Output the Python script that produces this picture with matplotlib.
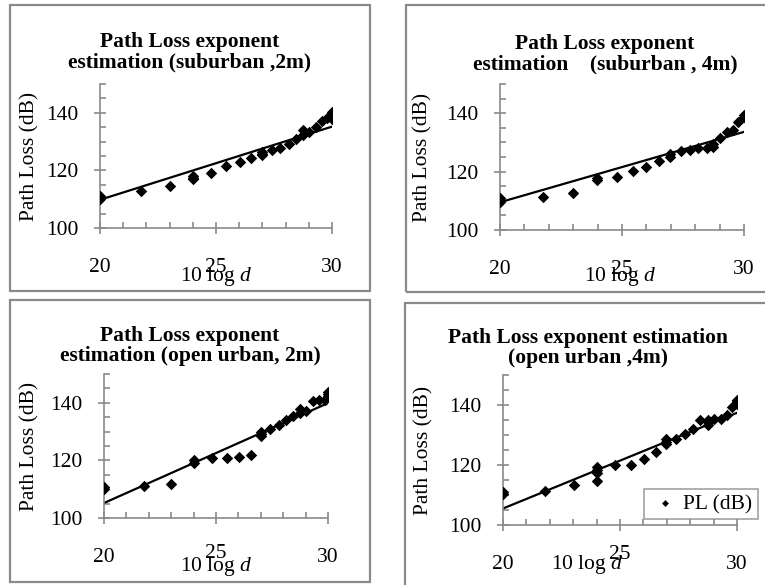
import matplotlib
matplotlib.use('Agg')
import matplotlib.pyplot as plt
from matplotlib.patches import Rectangle
from matplotlib.transforms import ScaledTranslation
from matplotlib.ticker import MultipleLocator

plt.rcParams['font.family'] = ['Liberation Serif', 'DejaVu Serif']
plt.rcParams['mathtext.fontset'] = 'custom'
plt.rcParams['mathtext.rm'] = 'Liberation Serif'
plt.rcParams['mathtext.it'] = 'Liberation Serif:italic'
plt.rcParams['mathtext.bf'] = 'Liberation Serif:bold'

# ---------------- data ----------------
titles = [
    "Path Loss exponent\nestimation (suburban ,2m)",
    "Path Loss exponent\nestimation    (suburban , 4m)",
    "Path Loss exponent\nestimation (open urban, 2m)",
    "Path Loss exponent estimation\n(open urban ,4m)",
]
x_label = "10 log $d$"
y_label = "Path Loss (dB)"
legend_label = "PL (dB)"
x_ticks = [20, 25, 30]
x_tick_labels = ["20", "25", "30"]
y_ticks = [100, 120, 140]
y_tick_labels = ["100", "120", "140"]

sub2_x = [20, 20, 20, 21.76, 23.01, 24, 24, 24, 24.77, 25.44, 26.02, 26.53, 26.99, 26.99, 27.0,
          27.4, 27.78, 28.13, 28.45, 28.75, 28.75, 29.03, 29.29, 29.56, 29.8, 30, 30, 30]
sub2_y = [110, 110.8, 111, 112.7, 114.5, 117, 117.5, 118.2, 119, 121.6, 122.9, 124.4, 125.3, 125.8, 126.3,
          127, 127.7, 129.1, 131, 132.3, 134.1, 133.4, 134.9, 137.1, 138.3, 137.9, 139.2, 140.2]
sub2_fit_x = [20, 30]
sub2_fit_y = [109.8, 135.2]

sub4_x = [20, 20, 20, 21.78, 23.0, 23.99, 23.99, 24.78, 25.46, 26.0, 26.5, 26.98, 26.98, 27.4, 27.79,
          28.13, 28.47, 28.74, 28.74, 29.02, 29.29, 29.54, 29.77, 30, 30]
sub4_y = [109.5, 110.3, 111, 111.3, 112.8, 117, 117.9, 118.3, 120.1, 121.6, 123.7, 125, 125.9, 127, 127.5,
          128, 128.1, 128.5, 129.3, 131.5, 133.4, 134.2, 136.9, 138.7, 139.4]
sub4_fit_x = [20, 30]
sub4_fit_y = [109.5, 133.6]

urb2_x = [20, 20, 21.78, 23.0, 24, 24, 24.8, 25.47, 26.02, 26.58, 27, 27, 27, 27.43, 27.8, 28.14,
          28.44, 28.74, 28.74, 29.0, 29.33, 29.6, 29.85, 30, 30, 30]
urb2_y = [110.2, 110.8, 111.0, 111.8, 119.2, 120, 120.9, 121, 121.3, 121.8, 128.3, 129.3, 130, 130.8, 132.2, 133.9,
          135.5, 136.3, 137.8, 137.2, 140.7, 140.8, 141, 142.3, 143.2, 143.8]
urb2_fit_x = [20, 30]
urb2_fit_y = [105.2, 139.9]

urb4_x = [20, 20, 21.79, 23.04, 24, 24, 24, 24, 24.79, 25.46, 26.04, 26.53, 26.97, 26.97, 26.97, 27.4,
          27.77, 28.14, 28.43, 28.74, 28.74, 28.74, 29.03, 29.31, 29.57, 29.79, 30, 30, 30]
urb4_y = [110.3, 111, 111.2, 113.2, 114.8, 117.5, 118.5, 119.3, 120, 120, 122, 124.2, 127, 127.8, 128.6, 128.8,
          130.5, 131.9, 135, 133.2, 134.2, 135, 135.3, 135.3, 136.6, 139.4, 140.5, 141.2, 141.8]
urb4_fit_x = [20, 30]
urb4_fit_y = [105.5, 137.4]

series = [
    (sub2_x, sub2_y, sub2_fit_x, sub2_fit_y),
    (sub4_x, sub4_y, sub4_fit_x, sub4_fit_y),
    (urb2_x, urb2_y, urb2_fit_x, urb2_fit_y),
    (urb4_x, urb4_y, urb4_fit_x, urb4_fit_y),
]

# ---------------- layout (pixels) ----------------
W, H = 765, 585
layout = [
    dict(border=(10, 5, 370, 291), ax=(100, 332, 84, 228), title=(190, 52),
         xlab=(216, 277), ylab_x=30, raise25=0),
    dict(border=(406, 5, 780, 292), ax=(500, 744, 84, 230), title=(605, 54),
         xlab=(620, 277), ylab_x=423, raise25=0),
    dict(border=(10, 300, 370, 582), ax=(104, 328, 374, 518), title=(190, 346),
         xlab=(216, 566), ylab_x=30, raise25=4),
    dict(border=(405, 303, 780, 600), ax=(503, 737, 375, 525), title=(588, 348),
         xlab=(587, 565), ylab_x=424, raise25=10),
]

GRAY = '#8a8a8a'
FS = 15.5

fig = plt.figure(figsize=(W / 100, H / 100), dpi=100)


def fx(x):
    return x / W


def fy(y):
    return 1 - y / H


for i, (lay, (px, py, fitx, fity)) in enumerate(zip(layout, series)):
    bx0, by0, bx1, by1 = lay['border']
    fig.patches.append(Rectangle((fx(bx0), fy(by1)), fx(bx1 - bx0), (by1 - by0) / H,
                                 transform=fig.transFigure, fill=False,
                                 edgecolor=GRAY, linewidth=1.6, zorder=0))
    ax0, ax1, ay0, ay1 = lay['ax']
    ax = fig.add_axes([fx(ax0), fy(ay1), (ax1 - ax0) / W, (ay1 - ay0) / H])
    ax.patch.set_alpha(0)
    ax.scatter(px, py, marker='D', s=34, color='black', linewidths=0, zorder=3,
               label=legend_label)
    ax.plot(fitx, fity, color='black', linewidth=1.6, zorder=2)
    ax.set_xlim(20, 30)
    ax.set_ylim(100, 150)
    for s in ['top', 'right']:
        ax.spines[s].set_visible(False)
    for s in ['left', 'bottom']:
        ax.spines[s].set_color(GRAY)
        ax.spines[s].set_linewidth(1.2)
    ax.set_xticks(x_ticks)
    ax.set_xticklabels(x_tick_labels)
    ax.set_yticks(y_ticks)
    ax.set_yticklabels(y_tick_labels)
    ax.xaxis.set_minor_locator(MultipleLocator(1))
    ax.yaxis.set_minor_locator(MultipleLocator(5))
    ax.tick_params(axis='x', which='major', direction='inout', length=9, width=1.2,
                   color=GRAY, labelsize=FS, pad=17)
    ax.tick_params(axis='y', which='major', direction='inout', length=9, width=1.2,
                   color=GRAY, labelsize=FS, pad=11)
    ax.tick_params(which='minor', direction='in', length=4, width=1.2, color=GRAY)
    if lay['raise25']:
        lbl = ax.get_xticklabels()[1]
        lbl.set_transform(lbl.get_transform() +
                          ScaledTranslation(0, lay['raise25'] / 100, fig.dpi_scale_trans))
    # axis labels
    ax.set_ylabel(y_label, fontsize=FS)
    ax.yaxis.set_label_coords((lay['ylab_x'] - ax0) / (ax1 - ax0), 0.5)
    ax.yaxis.label.set_verticalalignment('center')
    ax.set_xlabel(x_label, fontsize=FS)
    xl, yl = lay['xlab']
    ax.xaxis.set_label_coords((xl - ax0) / (ax1 - ax0), (ay1 - yl) / (ay1 - ay0))
    ax.xaxis.label.set_verticalalignment('center')
    # title
    tx, ty = lay['title']
    fig.text(fx(tx), fy(ty), titles[i], ha='center', va='center', multialignment='center',
             fontsize=FS, fontweight='bold', linespacing=1.0)
    if i == 3:
        leg = ax.legend(loc='center', bbox_to_anchor=(fx(701), fy(504)),
                        bbox_transform=fig.transFigure, fontsize=FS, frameon=True,
                        fancybox=False, edgecolor=GRAY, handletextpad=0.15,
                        handlelength=1.4, borderpad=0.25, markerscale=0.6,
                        borderaxespad=0)
        leg.get_frame().set_linewidth(1.2)

fig.savefig('out.png', dpi=100)
